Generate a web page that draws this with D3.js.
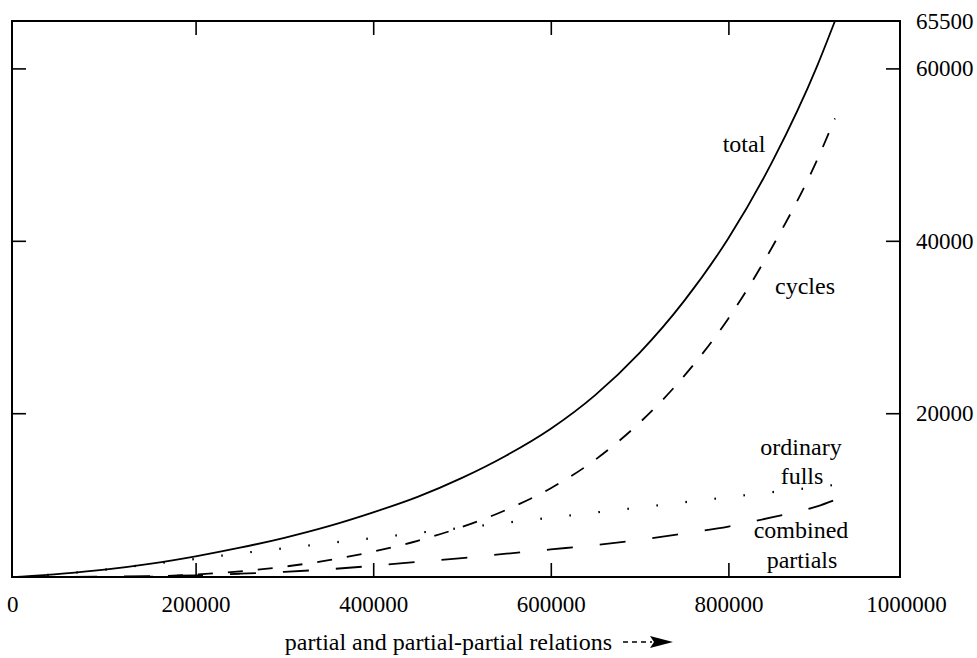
<!DOCTYPE html>
<html>
<head>
<meta charset="utf-8">
<script src="https://cdn.jsdelivr.net/npm/d3@7"></script>
<style>
  body { margin: 0; background: #fff; }
  svg text { font-family: "Liberation Serif", "Times New Roman", serif; fill: #000; }
</style>
</head>
<body>
<svg width="977" height="658"></svg>
<script>
// x: partial and partial-partial relations, y: counts
var relations = [0, 50000, 100000, 150000, 200000, 250000, 300000, 350000, 400000, 450000,
  500000, 550000, 600000, 650000, 700000, 750000, 800000, 850000, 900000, 920000];
var total = [1000, 1380, 1880, 2550, 3400, 4400, 5550, 6900, 8500, 10300,
  12500, 15100, 18200, 22100, 27000, 33000, 40300, 49300, 60300, 65500];
var cycles = [1000, 1000, 1000, 1050, 1300, 1650, 2200, 2950, 3950, 5200,
  6800, 8800, 11300, 14600, 18900, 24300, 31000, 39400, 49400, 54200];
var fulls = [1000, 1380, 1880, 2500, 3100, 3740, 4330, 4930, 5520, 6110,
  6700, 7300, 7890, 8480, 9070, 9670, 10260, 10850, 11440, 11680];
var combined = [1000, 1020, 1050, 1100, 1200, 1380, 1600, 1900, 2300, 2750,
  3200, 3700, 4200, 4700, 5300, 6050, 6850, 7950, 9200, 9950];

var xTicks = [0, 200000, 400000, 600000, 800000, 1000000];
var yTicks = [20000, 40000, 60000, 65500];

var frame = { left: 12, right: 900, top: 21, bottom: 577 };

var svg = d3.select("svg");

var x = d3.scaleLinear().domain([0, 1000000]).range([18, 906]);
var y = d3.scaleLinear().domain([1000, 65500]).range([frame.bottom, frame.top]);

// inward ticks on all four sides
var inner = function (v) { return v > 0 && v < 1000000; };
var bottom = svg.append("g")
    .attr("transform", "translate(0," + frame.bottom + ")")
    .call(d3.axisBottom(x).tickValues(xTicks).tickSizeInner(-14).tickSizeOuter(0)
      .tickPadding(19).tickFormat(d3.format("d")));
svg.append("g")
    .attr("transform", "translate(0," + frame.top + ")")
    .call(d3.axisTop(x).tickValues(xTicks.filter(inner)).tickSizeInner(-14).tickSizeOuter(0).tickFormat(""));
var right = svg.append("g")
    .attr("transform", "translate(" + frame.right + ",0)")
    .call(d3.axisRight(y).tickValues(yTicks).tickSizeInner(-14).tickSizeOuter(0)
      .tickPadding(16).tickFormat(d3.format("d")));
svg.append("g")
    .attr("transform", "translate(" + frame.left + ",0)")
    .call(d3.axisLeft(y).tickValues(yTicks.filter(function (v) { return v < 65500; }))
      .tickSizeInner(-14).tickSizeOuter(0).tickFormat(""));

svg.selectAll(".domain").remove();
svg.selectAll(".tick line").attr("stroke", "#000").attr("stroke-width", 1.6);
bottom.selectAll(".tick").filter(function (d) { return !inner(d); }).select("line").remove();
bottom.selectAll(".tick").filter(function (d) { return d === 0; }).select("text").attr("text-anchor", "end");
right.selectAll(".tick").filter(function (d) { return d === 65500; }).select("line").remove();
svg.selectAll(".tick text").style("font-size", "23px").attr("fill", "#000");

svg.append("rect")
    .attr("x", frame.left).attr("y", frame.top)
    .attr("width", frame.right - frame.left).attr("height", frame.bottom - frame.top)
    .attr("fill", "none").attr("stroke", "#000").attr("stroke-width", 2);

var line = function (vals) {
  return d3.line()
    .x(function (d, i) { return x(relations[i]); })
    .y(function (d) { return y(d); })
    .curve(d3.curveMonotoneX)(vals);
};

svg.append("path").attr("d", line(combined))
    .attr("fill", "none").attr("stroke", "#000").attr("stroke-width", 1.8)
    .attr("stroke-dasharray", "26,27");
svg.append("path").attr("d", line(fulls))
    .attr("fill", "none").attr("stroke", "#000").attr("stroke-width", 2.2)
    .attr("stroke-dasharray", "1.6,27.6");
svg.append("path").attr("d", line(cycles))
    .attr("fill", "none").attr("stroke", "#000").attr("stroke-width", 1.8)
    .attr("stroke-dasharray", "15,15");
svg.append("path").attr("d", line(total))
    .attr("fill", "none").attr("stroke", "#000").attr("stroke-width", 1.8);

// curve labels
var labels = [
  ["total", 744, 152], ["cycles", 805, 294], ["ordinary", 801, 455],
  ["fulls", 802, 484], ["combined", 801, 538], ["partials", 802, 568]
];
svg.selectAll(".lbl").data(labels).enter().append("text")
    .attr("class", "lbl")
    .attr("x", function (d) { return d[1]; })
    .attr("y", function (d) { return d[2]; })
    .attr("text-anchor", "middle")
    .style("font-size", "24px")
    .text(function (d) { return d[0]; });

// axis title with dashed arrow
svg.append("text")
    .attr("x", 612).attr("y", 650)
    .attr("text-anchor", "end")
    .style("font-size", "24px")
    .text("partial and partial-partial relations");
svg.append("line")
    .attr("x1", 623).attr("y1", 642).attr("x2", 652).attr("y2", 642)
    .attr("stroke", "#000").attr("stroke-width", 1.6).attr("stroke-dasharray", "5,4");
svg.append("path")
    .attr("d", "M650,636 L673,642 L650,648 L654,642 Z")
    .attr("fill", "#000");
</script>
</body>
</html>
